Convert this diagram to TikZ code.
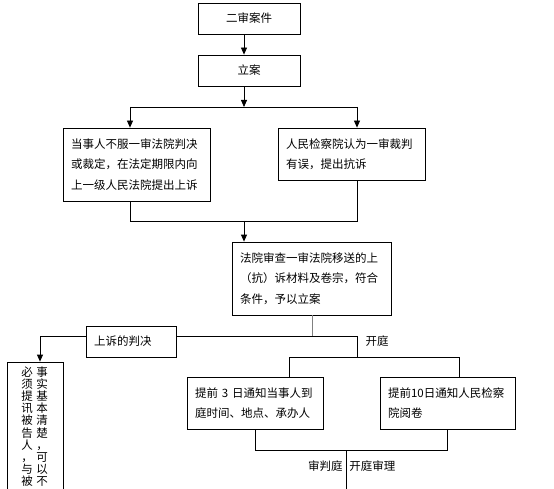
\documentclass[tikz,border=0pt]{standalone}
\usepackage{fontspec}
\setmainfont{Noto Sans CJK SC}
\usetikzlibrary{arrows.meta}
\begin{document}
\begin{tikzpicture}[x=1pt,y=-1pt,
  box/.style={draw, line width=0.8pt, fill=white, inner ysep=0pt, inner xsep=8pt, align=left,
    font=\fontsize{11.5}{20.5}\selectfont},
  cbox/.style={draw, line width=0.8pt, fill=white, inner sep=0pt, align=center,
    font=\fontsize{11.5}{20.5}\selectfont},
  lbl/.style={inner sep=0pt, font=\fontsize{11.5}{14}\selectfont},
  vcol/.style={inner sep=0pt, anchor=north, align=center, font=\fontsize{11.5}{12.2}\selectfont},
  arr/.style={-{Triangle[length=7pt,width=6pt]}}]
\useasboundingbox (0,0) rectangle (554,489);
\clip (0,0) rectangle (554,489);
\begin{scope}[line width=0.8pt]
% nodes
\node[cbox, minimum width=102pt, minimum height=31pt] (b1) at (249,18.5) {二审案件};
\node[cbox, minimum width=102pt, minimum height=31pt] (b2) at (249,70.5) {立案};
\node[box, text width=131pt, minimum height=73pt] (lb) at (136.5,164.5)
  {当事人不服一审法院判决\\或裁定，在法定期限内向\\上一级人民法院提出上诉};
\node[box, text width=131pt, minimum height=52pt] (rb) at (351.5,154)
  {人民检察院认为一审裁判\\有误，提出抗诉};
\node[box, text width=143pt, minimum height=73pt] (b3) at (311.5,278.5)
  {法院审查一审法院移送的上\\（抗）诉材料及卷宗，符合\\条件，予以立案};
\node[box, text width=74pt, minimum height=31pt] (judge) at (131,341.5) {上诉的判决};
\node[box, text width=120pt, minimum height=52pt] (b4) at (255,403)
  {提前 3 日通知当事人到\\庭时间、地点、承办人};
\node[box, text width=119pt, minimum height=52pt] (b5) at (447.5,403)
  {提前10日通知人民检察\\院阅卷};
\node[draw, line width=0.8pt, minimum width=56pt, minimum height=148pt, inner sep=0pt] (vb) at (35,436) {};
\node[vcol] (vr) at (42,366) {事\\实\\基\\本\\清\\楚\\，\\可\\以\\不};
\node[vcol] (vl) at (27,366) {必\\须\\提\\讯\\被\\告\\人\\，\\与\\被};
\node[lbl] (kt) at (377,341) {开庭};
\node[lbl, anchor=east] (spt) at (343,466) {审判庭};
\node[lbl, anchor=west] (ktsl) at (349,466) {开庭审理};
% coordinates
\coordinate (c1) at (244,107);
\coordinate (l1) at (130,107);
\coordinate (r1) at (357,107);
\coordinate (l2) at (130,221);
\coordinate (r2) at (357,221);
\coordinate (c2) at (244,221);
\coordinate (j3) at (312,336);
\coordinate (k1) at (357,336);
\coordinate (k2) at (357,357);
\coordinate (k3) at (289,357);
\coordinate (k4) at (459,357);
\coordinate (a1) at (40,336);
\coordinate (m1) at (255,450);
\coordinate (m2) at (447,450);
\coordinate (m3) at (346,450);
\coordinate (end) at (346,495);
% connectors
\draw[arr] (b1.south -| c1) -- (b2.north -| c1);
\draw[arr] (b2.south -| c1) -- (c1);
\draw (l1) -- (r1);
\draw[arr] (l1) -- (lb.north -| l1);
\draw[arr] (r1) -- (rb.north -| r1);
\draw (lb.south -| l2) -- (l2) -- (r2) -- (rb.south -| r2);
\draw[arr] (c2) -- (b3.north -| c2);
\draw[gray] (b3.south -| j3) -- (j3);
\draw (j3) -- (judge.east |- j3);
\draw[arr] (judge.west |- a1) -- (a1) -- (vb.north -| a1);
\draw (j3) -- (k1) -- (k2);
\draw (k3) -- (k4);
\draw (k3) -- (b4.north -| k3);
\draw (k4) -- (b5.north -| k4);
\draw (b4.south -| m1) -- (m1) -- (m2) -- (b5.south -| m2);
\draw (m3) -- (end);
\end{scope}
\end{tikzpicture}
\end{document}
